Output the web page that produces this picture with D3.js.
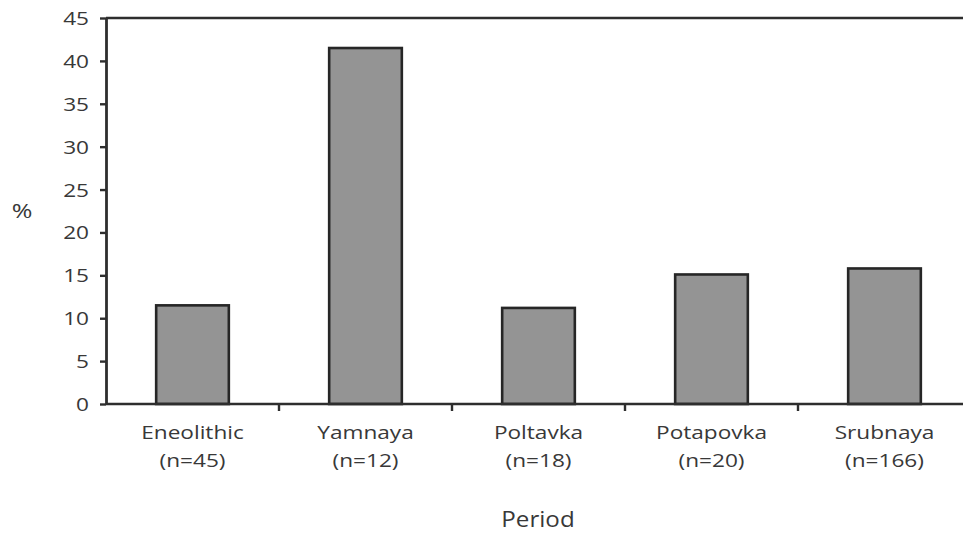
<!DOCTYPE html>
<html>
<head>
<meta charset="utf-8">
<script src="https://cdn.jsdelivr.net/npm/d3@7"></script>
<style>
  html, body { margin: 0; padding: 0; background: #fff; }
  svg { display: block; }
  text { font-family: "Open Sans", "DejaVu Sans", sans-serif; fill: #383838; }
</style>
</head>
<body>
<svg id="chart" width="963" height="533"></svg>
<script>
// Share of individuals per period (%)
const periods = ["Eneolithic", "Yamnaya", "Poltavka", "Potapovka", "Srubnaya"];
const sampleSizes = ["(n=45)", "(n=12)", "(n=18)", "(n=20)", "(n=166)"];
const percentages = [11.5, 41.5, 11.2, 15.1, 15.8];
const yTicks = [0, 5, 10, 15, 20, 25, 30, 35, 40, 45];

const svg = d3.select("#chart");
const W = 963;
const plotLeft = 106, plotRight = 971, plotTop = 18, plotBottom = 404;
const stretch = 1.19;   // wide lettering

const x = d3.scaleBand()
  .domain(periods)
  .range([plotLeft, plotRight])
  .paddingInner(0.58)
  .paddingOuter(0.29);

const y = d3.scaleLinear().domain([0, 45]).range([plotBottom, plotTop]);

const lineColor = "#2e2e2e";

// bars
svg.append("g").selectAll("rect")
  .data(percentages)
  .join("rect")
  .attr("x", (d, i) => x(periods[i]))
  .attr("y", d => y(d))
  .attr("width", x.bandwidth())
  .attr("height", d => y(0) - y(d))
  .attr("fill", "#949494")
  .attr("stroke", "#262626")
  .attr("stroke-width", 2.6);

// top frame line
svg.append("line")
  .attr("x1", plotLeft).attr("x2", W)
  .attr("y1", y(45)).attr("y2", y(45))
  .attr("stroke", lineColor).attr("stroke-width", 2.6);

// y axis
const yAxis = svg.append("g")
  .attr("transform", `translate(${plotLeft},0)`)
  .call(d3.axisLeft(y).tickValues(yTicks).tickSize(6).tickSizeOuter(0).tickPadding(0).tickFormat(() => ""));
yAxis.select(".domain").attr("stroke", lineColor).attr("stroke-width", 2.8);
yAxis.selectAll(".tick line").attr("stroke", lineColor).attr("stroke-width", 2.4);

svg.append("g").selectAll("text")
  .data(yTicks)
  .join("text")
  .attr("transform", d => `translate(89,${y(d) + 7}) scale(${stretch},1)`)
  .attr("text-anchor", "end")
  .attr("font-size", 19)
  .text(d => d);

// x axis with ticks on category boundaries
const bounds = periods.slice(1).map(p => x(p) - x.step() * x.paddingInner() / 2);
svg.append("line")
  .attr("x1", plotLeft).attr("x2", W)
  .attr("y1", y(0)).attr("y2", y(0))
  .attr("stroke", lineColor).attr("stroke-width", 2.6);
svg.append("g").selectAll("line")
  .data(bounds)
  .join("line")
  .attr("x1", d => d).attr("x2", d => d)
  .attr("y1", y(0)).attr("y2", y(0) + 7)
  .attr("stroke", lineColor).attr("stroke-width", 2.4);

// category labels
const cx = p => x(p) + x.bandwidth() / 2;
svg.append("g").selectAll("text")
  .data(periods)
  .join("text")
  .attr("transform", p => `translate(${cx(p)},439) scale(${stretch},1)`)
  .attr("text-anchor", "middle")
  .attr("font-size", 19)
  .text(p => p);
svg.append("g").selectAll("text")
  .data(sampleSizes)
  .join("text")
  .attr("transform", (s, i) => `translate(${cx(periods[i])},467) scale(${stretch},1)`)
  .attr("text-anchor", "middle")
  .attr("font-size", 19)
  .text(s => s);

// axis titles
svg.append("text")
  .attr("transform", `translate(538,527) scale(1.15,1)`)
  .attr("text-anchor", "middle")
  .attr("font-size", 21)
  .text("Period");
svg.append("text")
  .attr("transform", `translate(22,218) scale(1.25,1)`)
  .attr("text-anchor", "middle")
  .attr("font-size", 20)
  .text("%");
</script>
</body>
</html>
